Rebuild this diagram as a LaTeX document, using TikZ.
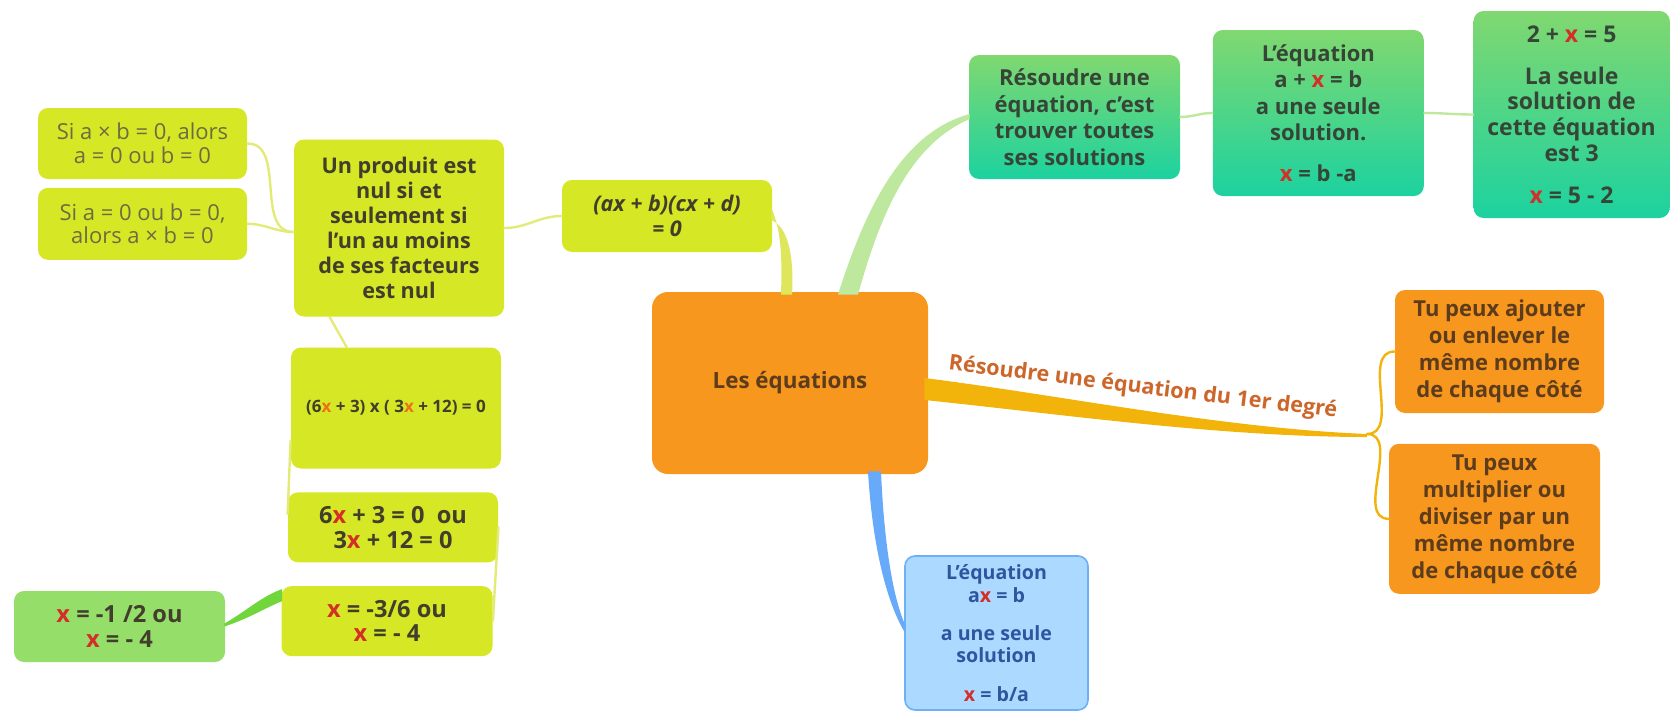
\documentclass[tikz,border=0pt]{standalone}
\usepackage{fontspec}
\setmainfont{Open Sans}
\usetikzlibrary{positioning, calc}
\definecolor{hubfill}{RGB}{248,151,30}
\definecolor{limefill}{RGB}{214,231,38}
\definecolor{leaffill}{RGB}{150,222,106}
\definecolor{tealtop}{RGB}{128,216,112}
\definecolor{tealbottom}{RGB}{28,210,160}
\definecolor{bluefill}{RGB}{172,217,255}
\definecolor{blueedge}{RGB}{110,176,246}
\definecolor{inkdark}{RGB}{66,62,44}
\definecolor{inkolive}{RGB}{108,108,66}
\definecolor{inkgreen}{RGB}{54,70,54}
\definecolor{inkbrown}{RGB}{92,60,28}
\definecolor{inkblue}{RGB}{46,86,160}
\definecolor{xred}{RGB}{212,46,40}
\definecolor{xorange}{RGB}{236,112,22}
\definecolor{goldband}{RGB}{242,180,10}
\definecolor{labelbrown}{RGB}{205,102,42}
\definecolor{greenband}{RGB}{190,232,158}
\definecolor{limeband}{RGB}{222,230,92}
\definecolor{limeline}{RGB}{228,234,120}
\definecolor{blueband}{RGB}{104,170,250}
\definecolor{leafband}{RGB}{112,214,60}
\newcommand{\redx}{\textcolor{xred}{x}}
\newcommand{\orx}{\textcolor{xorange}{x}}

\begin{document}
\begin{tikzpicture}[x=0.5pt, y=-0.5pt,
    box/.style={rectangle, rounded corners=5pt, align=center, inner sep=2pt, text=inkdark, font=\fontsize{10.8}{12.5}\selectfont\bfseries},
    limebox/.style={box, fill=limefill, minimum width=105pt, minimum height=35pt},
    rulebox/.style={limebox, text=inkolive, font=\fontsize{11}{11.8}\selectfont},
    tealbox/.style={box, top color=tealtop, bottom color=tealbottom, text=inkgreen, minimum width=105.5pt, font=\fontsize{11}{13.3}\selectfont\bfseries},
    orangebox/.style={box, fill=hubfill, text=inkbrown, minimum width=105pt, font=\fontsize{11}{13.5}\selectfont\bfseries},
    bluebox/.style={box, fill=bluefill, draw=blueedge, line width=0.8pt, text=inkblue, minimum width=91.5pt, font=\fontsize{9.8}{11.2}\selectfont\bfseries},
    twig/.style={line width=1.2pt, line cap=round}
  ]
    \useasboundingbox (0,0) rectangle (1670,712);

    % centre
    \node[box, fill=hubfill, rounded corners=8pt, text=inkbrown, minimum width=138pt, minimum height=91pt, font=\fontsize{11.2}{13}\selectfont\bfseries] (hub) at (790,383) {Les équations};

    % left: produit nul
    \node[limebox, minimum height=36pt, font=\fontsize{10.8}{12.5}\selectfont\bfseries\itshape] (factored) at (667,216) {(ax + b)(cx + d)\\= 0};
    \node[limebox, minimum height=88.5pt] (nulrule) at (399,228) {Un produit est\\nul si et\\seulement si\\l’un au moins\\de ses facteurs\\est nul};
    \node[rulebox, minimum width=104.5pt, minimum height=35.5pt] (ifzero) at (142.5,143.5) {Si a × b = 0, alors\\a = 0 ou b = 0};
    \node[rulebox, minimum width=104.5pt, minimum height=36pt, below=4pt of ifzero] (zeroif) {Si a = 0 ou b = 0,\\alors a × b = 0};
    \node[limebox, minimum height=60.5pt, font=\fontsize{8.5}{10}\selectfont\bfseries] (product) at (396,408) {(6\orx{} + 3) x ( 3\orx{} + 12) = 0};
    \node[limebox, below=11.5pt of product, xshift=-1.5pt, font=\fontsize{11.8}{12.3}\selectfont\bfseries] (either) {6\redx{} + 3 = 0~~ou\\3\redx{} + 12 = 0};
    \node[limebox, minimum width=105.5pt, below=11.5pt of either, xshift=-3pt, font=\fontsize{11.8}{12.3}\selectfont\bfseries] (roots) {\redx{} = -3/6 ou\\\redx{} = - 4};
    \node[box, fill=leaffill, minimum width=105.5pt, minimum height=35.5pt, font=\fontsize{11.8}{12.3}\selectfont\bfseries] (answer) at (119.5,626.5) {\redx{} = -1 /2 ou\\\redx{} = - 4};

    % top right
    \node[tealbox, minimum height=62pt] (solving) at (1074.5,117) {Résoudre une\\équation, c'est\\trouver toutes\\ses solutions};
    \node[tealbox, minimum height=83pt, right=16pt of solving, yshift=2pt] (additive) {L'équation\\a + \redx{} = b\\a une seule\\solution.\\[7pt]\redx{} = b -a};
    \node[tealbox, minimum width=98pt, minimum height=103.5pt, right=24.5pt of additive, yshift=-0.75pt, font=\fontsize{11.5}{12.9}\selectfont\bfseries] (example) {2 + \redx{} = 5\\[8pt]La seule\\solution de\\cette équation\\est 3\\[8pt]\redx{} = 5 - 2};

    % right: 1er degre
    \node[orangebox, minimum width=104.5pt, minimum height=61.5pt] (addrule) at (1499.5,351.5) {Tu peux ajouter\\ou enlever le\\même nombre\\de chaque côté};
    \node[orangebox, minimum width=105.5pt, minimum height=75pt, below=15pt of addrule, xshift=-2.5pt] (multrule) {Tu peux\\multiplier ou\\diviser par un\\même nombre\\de chaque côté};

    % bottom
    \node[bluebox, minimum height=77pt] (linear) at (996.5,633) {L'équation\\a\redx{} = b\\[8pt]a une seule\\solution\\[8pt]\redx{} = b/a};

    % main branches
    \coordinate (fork) at (1367,434);
    \fill[goldband] ($(hub.east)+(-4,-5)$) .. controls (1060,395) and (1220,428) .. (fork) -- ($(fork)+(0,3)$) .. controls (1220,437) and (1060,414) .. ($(hub.east)+(-4,17)$) -- cycle;
    \node[rotate=-7, text=labelbrown, font=\fontsize{10.8}{12}\selectfont\bfseries] (lbl) at (1143,388) {Résoudre une équation du 1er degré};
    \fill[greenband] ($(hub.north)+(48,3)$) .. controls (868,200) and (905,132) .. ($(solving.west)+(1,-3)$) -- ($(solving.west)+(1,2)$) .. controls (912,144) and (882,208) .. ($(hub.north)+(68,3)$) -- cycle;
    \fill[limeband] ($(factored.east)+(-1,-8)$) .. controls (782,232) and (782,262) .. ($(hub.north)+(-9,3)$) -- ($(hub.north)+(2,3)$) .. controls (794,262) and (790,228) .. ($(factored.east)+(-1,4)$) -- cycle;
    \fill[blueband] ($(hub.south)+(78,-3)$) .. controls (872,540) and (885,600) .. ($(linear.west)+(1,0)$) -- ($(linear.west)+(1,-8)$) .. controls (892,595) and (884,540) .. ($(hub.south)+(91,-3)$) -- cycle;
    \fill[leafband] ($(roots.west)+(1,-32)$) .. controls (262,596) and (245,612) .. ($(answer.east)+(-1,-3)$) -- ($(answer.east)+(-1,0)$) .. controls (250,618) and (265,608) .. ($(roots.west)+(1,-20)$) -- cycle;

    % twigs
    \draw[twig, goldband] (fork) to[out=0, in=180] (addrule.west);
    \draw[twig, goldband] (fork) to[out=0, in=180] (multrule.west);
    \draw[twig, greenband] (solving.east) to[out=0, in=180] (additive.west);
    \draw[twig, greenband] (additive.east) to[out=0, in=180] (example.west);
    \draw[twig, limeline] (factored.west) to[out=180, in=0] (nulrule.east);
    \draw[twig, limeline] (ifzero.east) to[out=0, in=180] ($(nulrule.west)+(0,4)$);
    \draw[twig, limeline] (zeroif.east) to[out=0, in=180] ($(nulrule.west)+(0,4)$);
    \draw[twig, limeline] ($(nulrule.south west)+(36,0)$) -- ($(product.north west)+(56,0)$);
    \draw[twig, limeline] ($(product.south west)+(0,-28)$) -- ($(either.north west)+(0,22)$);
    \draw[twig, limeline] (either.east) -- (roots.east);
\end{tikzpicture}
\end{document}
